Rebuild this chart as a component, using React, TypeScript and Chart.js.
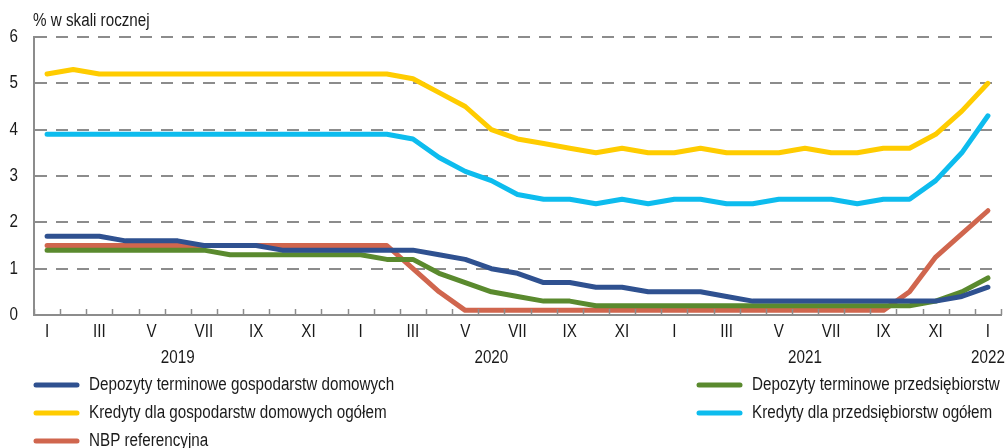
import React, { useEffect, useRef } from "react";
import { Chart, registerables } from "chart.js";

Chart.register(...registerables);

const monthLabels = [
  "I", "II", "III", "IV", "V", "VI", "VII", "VIII", "IX", "X", "XI", "XII",
  "I", "II", "III", "IV", "V", "VI", "VII", "VIII", "IX", "X", "XI", "XII",
  "I", "II", "III", "IV", "V", "VI", "VII", "VIII", "IX", "X", "XI", "XII",
  "I",
];
const yearLabels = ["2019", "2020", "2021", "2022"];

const depozytyGosp = [
  1.7, 1.7, 1.7, 1.6, 1.6, 1.6, 1.5, 1.5, 1.5, 1.4, 1.4, 1.4,
  1.4, 1.4, 1.4, 1.3, 1.2, 1.0, 0.9, 0.7, 0.7, 0.6, 0.6, 0.5,
  0.5, 0.5, 0.4, 0.3, 0.3, 0.3, 0.3, 0.3, 0.3, 0.3, 0.3, 0.4,
  0.6,
];
const depozytyPrzeds = [
  1.4, 1.4, 1.4, 1.4, 1.4, 1.4, 1.4, 1.3, 1.3, 1.3, 1.3, 1.3,
  1.3, 1.2, 1.2, 0.9, 0.7, 0.5, 0.4, 0.3, 0.3, 0.2, 0.2, 0.2,
  0.2, 0.2, 0.2, 0.2, 0.2, 0.2, 0.2, 0.2, 0.2, 0.2, 0.3, 0.5,
  0.8,
];
const kredytyGosp = [
  5.2, 5.3, 5.2, 5.2, 5.2, 5.2, 5.2, 5.2, 5.2, 5.2, 5.2, 5.2,
  5.2, 5.2, 5.1, 4.8, 4.5, 4.0, 3.8, 3.7, 3.6, 3.5, 3.6, 3.5,
  3.5, 3.6, 3.5, 3.5, 3.5, 3.6, 3.5, 3.5, 3.6, 3.6, 3.9, 4.4,
  5.0,
];
const kredytyPrzeds = [
  3.9, 3.9, 3.9, 3.9, 3.9, 3.9, 3.9, 3.9, 3.9, 3.9, 3.9, 3.9,
  3.9, 3.9, 3.8, 3.4, 3.1, 2.9, 2.6, 2.5, 2.5, 2.4, 2.5, 2.4,
  2.5, 2.5, 2.4, 2.4, 2.5, 2.5, 2.5, 2.4, 2.5, 2.5, 2.9, 3.5,
  4.3,
];
const nbpReferencyjna = [
  1.5, 1.5, 1.5, 1.5, 1.5, 1.5, 1.5, 1.5, 1.5, 1.5, 1.5, 1.5,
  1.5, 1.5, 1.0, 0.5, 0.1, 0.1, 0.1, 0.1, 0.1, 0.1, 0.1, 0.1,
  0.1, 0.1, 0.1, 0.1, 0.1, 0.1, 0.1, 0.1, 0.1, 0.5, 1.25, 1.75,
  2.25,
];

const seriesNames = [
  "Depozyty terminowe gospodarstw domowych",
  "Depozyty terminowe przedsiębiorstw",
  "Kredyty dla gospodarstw domowych ogółem",
  "Kredyty dla przedsiębiorstw ogółem",
  "NBP referencyjna",
];
const seriesColors = ["#2f5190", "#5a8a2e", "#ffcc00", "#0dbcee", "#d0664e"];
const yTitle = "% w skali rocznej";

const FONT = "'Liberation Sans', Arial, sans-serif";
const FONT_SIZE = 18;
const SQUEEZE = 0.845; // emulate a narrow face
const TEXT = "#1a1a1a";
const GRID = "#8c8c8c";

function narrowText(ctx: CanvasRenderingContext2D, text: string, x: number, y: number, align: CanvasTextAlign, baseline: CanvasTextBaseline) {
  ctx.save();
  ctx.translate(x, y);
  ctx.scale(SQUEEZE, 1);
  ctx.font = `${FONT_SIZE}px ${FONT}`;
  ctx.fillStyle = TEXT;
  ctx.textAlign = align;
  ctx.textBaseline = baseline;
  ctx.fillText(text, 0, 0);
  ctx.restore();
}

const extrasPlugin = {
  id: "extras",
  afterDraw(chart: any) {
    const { ctx, chartArea, scales } = chart;
    const x = scales.x;
    const y = scales.y;
    ctx.save();
    // tick marks (upward) at category boundaries
    ctx.strokeStyle = GRID;
    ctx.lineWidth = 1.5;
    for (let i = 0; i <= monthLabels.length; i++) {
      const px = Math.round(x.getPixelForValue(i - 0.5)) + 0.5;
      ctx.beginPath();
      ctx.moveTo(px, chartArea.bottom);
      ctx.lineTo(px, chartArea.bottom - 6);
      ctx.stroke();
    }
    ctx.restore();
    // x tick labels (from the scale's ticks)
    x.ticks.forEach((t: any, i: number) => {
      if (t.label) narrowText(ctx, String(t.label), x.getPixelForTick(i), 332, "center", "middle");
    });
    // y tick labels
    y.ticks.forEach((t: any) => {
      narrowText(ctx, String(t.value), 18, y.getPixelForValue(t.value), "right", "middle");
    });
    // y title
    narrowText(ctx, yTitle, 33, 26, "left", "alphabetic");
    // year labels
    let yi = 0;
    for (let i = 0; i < monthLabels.length; i++) {
      if (monthLabels[i] !== "I") continue;
      let count = 0;
      while (i + count < monthLabels.length && (count === 0 || monthLabels[i + count] !== "I")) count++;
      const center = i + Math.min(count - 1, 5);
      narrowText(ctx, yearLabels[yi++], x.getPixelForValue(center), 358, "center", "middle");
    }
    // legend
    const cols = [
      { lx: 36, tx: 89 },
      { lx: 699, tx: 752 },
    ];
    const rows = [385, 413, 441];
    seriesNames.forEach((name, k) => {
      const col = cols[k % 2];
      const ry = rows[Math.floor(k / 2)];
      ctx.save();
      ctx.strokeStyle = seriesColors[k];
      ctx.lineWidth = 5;
      ctx.lineCap = "round";
      ctx.beginPath();
      ctx.moveTo(col.lx, ry);
      ctx.lineTo(col.lx + 41, ry);
      ctx.stroke();
      ctx.restore();
      narrowText(ctx, name, col.tx, ry, "left", "middle");
    });
  },
};

export default function App() {
  const ref = useRef<HTMLCanvasElement | null>(null);
  useEffect(() => {
    document.body.style.margin = "0";
    if (!ref.current) return;
    const seriesData = [depozytyGosp, depozytyPrzeds, kredytyGosp, kredytyPrzeds, nbpReferencyjna];
    const chart = new Chart(ref.current, {
      type: "line",
      data: {
        labels: monthLabels,
        datasets: seriesNames.map((name, k) => ({
          label: name,
          data: seriesData[k],
          borderColor: seriesColors[k],
          backgroundColor: seriesColors[k],
          borderWidth: 5,
          pointRadius: 0,
          tension: 0,
          borderCapStyle: "round",
          borderJoinStyle: "round",
        })),
      },
      options: {
        responsive: false,
        animation: false,
        layout: { padding: { left: 0, top: 37, right: 5, bottom: 0 } },
        plugins: { legend: { display: false }, tooltip: { enabled: false } },
        scales: {
          x: {
            type: "category",
            offset: true,
            grid: { display: false, drawTicks: false },
            border: { display: true, color: GRID, width: 2 },
            ticks: {
              display: false,
              autoSkip: false,
              maxRotation: 0,
              callback: (_v: any, i: number) => (i % 2 === 0 ? monthLabels[i] : ""),
            },
            afterFit: (s: any) => {
              s.height = 133;
            },
          },
          y: {
            min: 0,
            max: 6,
            ticks: { display: false, stepSize: 1 },
            grid: { color: GRID, lineWidth: 2, drawTicks: false },
            border: { display: true, color: GRID, width: 2, dash: [12, 9] },
            afterFit: (s: any) => {
              s.width = 34;
            },
          },
        },
      },
      plugins: [extrasPlugin],
    } as any);
    return () => chart.destroy();
  }, []);
  return (
    <div style={{ width: 1006, height: 448 }}>
      <canvas ref={ref} width={1006} height={448} style={{ display: "block" }} />
    </div>
  );
}
